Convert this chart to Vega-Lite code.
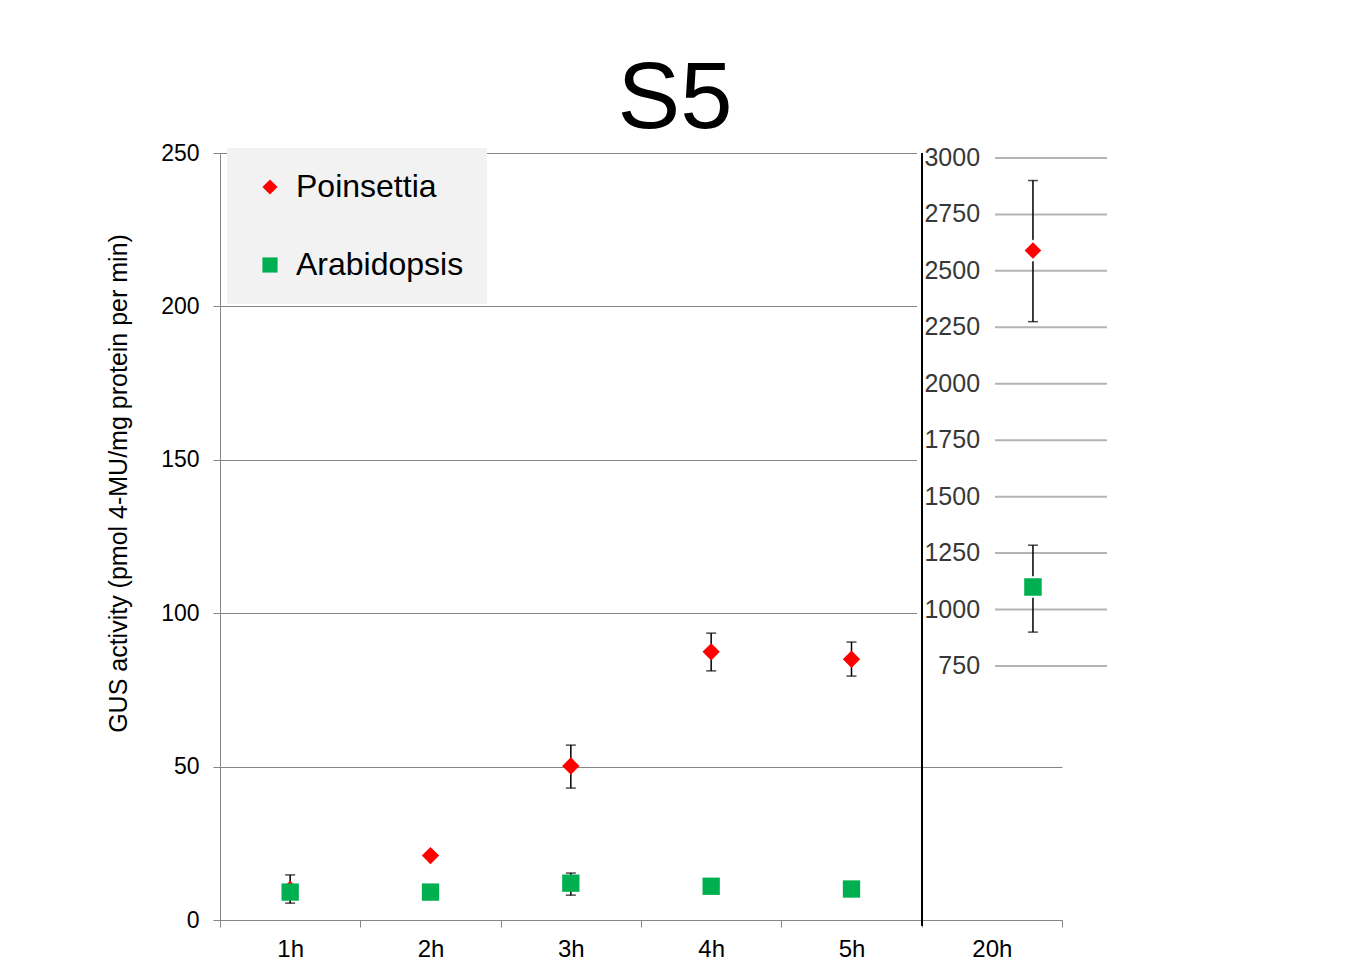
{
  "$schema": "https://vega.github.io/schema/vega-lite/v6.json",
  "autosize": "none",
  "width": 842,
  "height": 767,
  "padding": {"left": 220, "top": 153, "right": 288, "bottom": 46},
  "background": "white",
  "title": {
    "text": "S5",
    "font": "Liberation Sans",
    "fontSize": 94,
    "fontWeight": "normal",
    "color": "black",
    "anchor": "middle",
    "frame": "group",
    "dx": 34,
    "dy": 100,
    "baseline": "alphabetic",
    "offset": 20
  },
  "config": {"view": {"stroke": null}, "font": "Liberation Sans"},
  "datasets": {
    "main": [
      {"time": "1h", "species": "Poinsettia", "value": 10, "lo": null, "hi": null},
      {"time": "2h", "species": "Poinsettia", "value": 21, "lo": null, "hi": null},
      {"time": "3h", "species": "Poinsettia", "value": 50.2, "lo": 43, "hi": 57},
      {"time": "4h", "species": "Poinsettia", "value": 87.4, "lo": 81.2, "hi": 93.5},
      {"time": "5h", "species": "Poinsettia", "value": 85, "lo": 79.5, "hi": 90.6},
      {"time": "1h", "species": "Arabidopsis", "value": 9.1, "lo": 5.5, "hi": 14.7},
      {"time": "2h", "species": "Arabidopsis", "value": 9.1, "lo": null, "hi": null},
      {"time": "3h", "species": "Arabidopsis", "value": 12, "lo": 8.1, "hi": 15.3},
      {"time": "4h", "species": "Arabidopsis", "value": 11, "lo": null, "hi": null},
      {"time": "5h", "species": "Arabidopsis", "value": 10.1, "lo": null, "hi": null}
    ],
    "inset": [
      {"time": "20h", "species": "Poinsettia", "value": 2590, "lo": 2275, "hi": 2900},
      {"time": "20h", "species": "Arabidopsis", "value": 1100, "lo": 900, "hi": 1285}
    ],
    "insetTicks": [
      {"v": 750}, {"v": 1000}, {"v": 1250}, {"v": 1500}, {"v": 1750},
      {"v": 2000}, {"v": 2250}, {"v": 2500}, {"v": 2750}, {"v": 3000}
    ]
  },
  "layer": [
    {
      "data": {"name": "main"},
      "encoding": {
        "x": {
          "field": "time",
          "type": "nominal",
          "sort": ["1h", "2h", "3h", "4h", "5h", "20h"],
          "scale": {"domain": ["1h", "2h", "3h", "4h", "5h", "20h"], "paddingInner": 0, "paddingOuter": 0},
          "axis": {
            "title": null,
            "tickBand": "extent",
            "tickSize": 7,
            "tickColor": "#868686",
            "domainColor": "#868686",
            "labelFontSize": 24,
            "labelColor": "black",
            "labelPadding": 10,
            "labelAngle": 0
          }
        }
      },
      "layer": [
        {
          "transform": [{"filter": "datum.lo != null"}],
          "mark": {"type": "errorbar", "color": "black", "thickness": 1.5, "ticks": {"size": 10}},
          "encoding": {
            "y": {
              "field": "lo",
              "type": "quantitative",
              "title": "GUS activity (pmol 4-MU/mg protein per min)",
              "scale": {"domain": [0, 250], "nice": false},
              "axis": {
                "values": [0, 50, 100, 150, 200, 250],
                "grid": true,
                "gridColor": "#868686",
                "gridWidth": 1,
                "domainColor": "#868686",
                "tickColor": "#868686",
                "tickSize": 7,
                "labelFontSize": 23,
                "labelColor": "black",
                "labelPadding": 14,
                "titleFontSize": 25,
                "titleFontWeight": "normal",
                "titleColor": "black",
                "titleX": -94,
                "titleY": 330,
                "titleBaseline": "alphabetic",
                "titleAlign": "center"
              }
            },
            "y2": {"field": "hi"}
          }
        },
        {
          "mark": {"type": "point", "filled": true, "opacity": 1},
          "encoding": {
            "y": {
              "field": "value",
              "type": "quantitative",
              "title": "GUS activity (pmol 4-MU/mg protein per min)",
              "scale": {"domain": [0, 250], "nice": false}
            },
            "color": {
              "field": "species",
              "type": "nominal",
              "scale": {"domain": ["Poinsettia", "Arabidopsis"], "range": ["#ff0000", "#00b050"]},
              "legend": {
                "orient": "none",
                "legendX": 7,
                "legendY": -5,
                "title": null,
                "fillColor": "#f2f2f2",
                "padding": 23,
                "labelFont": "Liberation Sans",
                "labelFontSize": 32,
                "labelColor": "black",
                "labelLimit": 400,
                "symbolSize": 230,
                "symbolStrokeWidth": 0,
                "rowPadding": 46,
                "labelOffset": 10,
                "symbolOffset": 4
              }
            },
            "shape": {
              "field": "species",
              "type": "nominal",
              "scale": {"domain": ["Poinsettia", "Arabidopsis"], "range": ["diamond", "square"]}
            },
            "size": {"value": 300}
          }
        }
      ]
    },
    {
      "data": {"name": "inset"},
      "layer": [
        {
          "mark": {"type": "rect", "color": "white"},
          "encoding": {
            "x": {"datum": 4.967, "type": "quantitative", "scale": {"domain": [0, 6], "nice": false}, "axis": null},
            "x2": {"datum": 6.342},
            "y": {"datum": 686, "type": "quantitative", "scale": {"domain": [-375, 3022], "nice": false}, "axis": null},
            "y2": {"datum": 3050}
          }
        },
        {
          "data": {"name": "insetTicks"},
          "mark": {"type": "rule", "color": "#b4b4b4", "strokeWidth": 2},
          "encoding": {
            "x": {"datum": 5.5226, "type": "quantitative", "axis": null},
            "x2": {"datum": 6.3207},
            "y": {"field": "v", "type": "quantitative", "axis": null}
          }
        },
        {
          "data": {"name": "insetTicks"},
          "mark": {"type": "text", "align": "right", "baseline": "middle", "fontSize": 25, "color": "#383838", "font": "Liberation Sans"},
          "encoding": {
            "x": {"datum": 5.416, "type": "quantitative", "axis": null},
            "y": {"field": "v", "type": "quantitative", "axis": null},
            "text": {"field": "v", "type": "quantitative"}
          }
        },
        {
          "mark": {"type": "rule", "color": "black", "strokeWidth": 2},
          "encoding": {
            "x": {"datum": 5.0024, "type": "quantitative", "axis": null},
            "y": {"datum": 3022, "type": "quantitative", "axis": null},
            "y2": {"datum": -400}
          }
        },
        {
          "mark": {"type": "rule", "color": "black", "strokeWidth": 1.5},
          "encoding": {
            "x": {"datum": 5.793, "type": "quantitative", "axis": null},
            "y": {"field": "lo", "type": "quantitative", "axis": null},
            "y2": {"field": "hi"}
          }
        },
        {
          "mark": {"type": "tick", "orient": "horizontal", "color": "black", "thickness": 1.5, "size": 10},
          "encoding": {
            "x": {"datum": 5.793, "type": "quantitative", "axis": null},
            "y": {"field": "lo", "type": "quantitative", "axis": null}
          }
        },
        {
          "mark": {"type": "tick", "orient": "horizontal", "color": "black", "thickness": 1.5, "size": 10},
          "encoding": {
            "x": {"datum": 5.793, "type": "quantitative", "axis": null},
            "y": {"field": "hi", "type": "quantitative", "axis": null}
          }
        },
        {
          "mark": {"type": "point", "filled": true, "opacity": 1, "stroke": "white", "strokeWidth": 2},
          "encoding": {
            "x": {"datum": 5.793, "type": "quantitative", "axis": null},
            "y": {"field": "value", "type": "quantitative", "axis": null},
            "color": {"field": "species", "type": "nominal", "legend": null},
            "shape": {"field": "species", "type": "nominal", "legend": null},
            "size": {"value": 380}
          }
        }
      ]
    }
  ],
  "resolve": {"scale": {"x": "independent", "y": "independent"}}
}
